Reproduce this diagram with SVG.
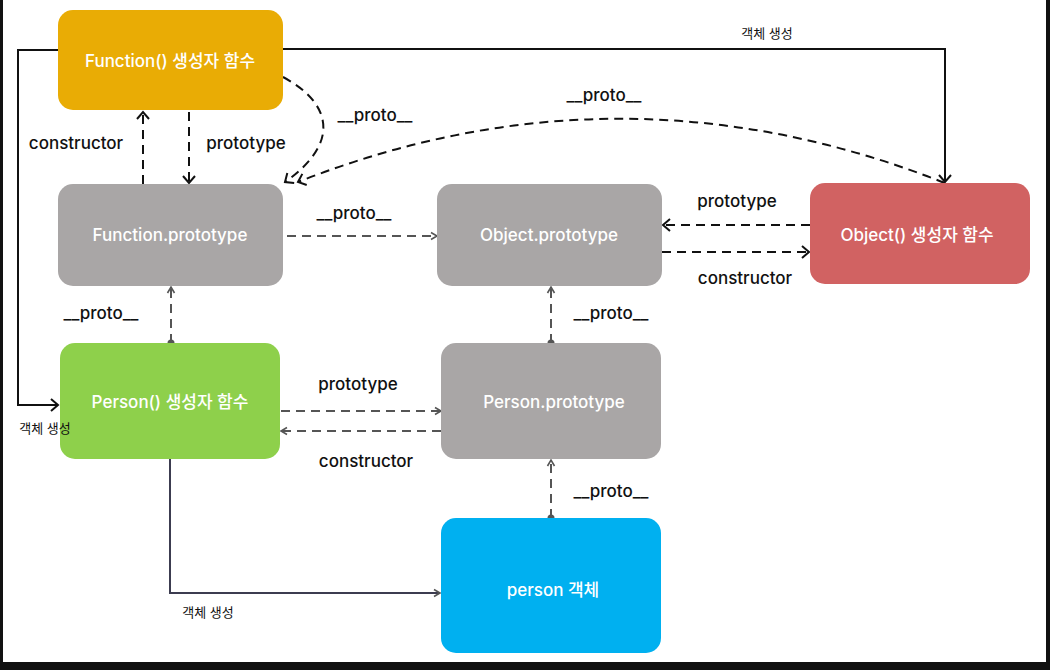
<svg xmlns="http://www.w3.org/2000/svg" width="1050" height="670" viewBox="0 0 1050 670">
<style>
.node text{font-family:Inter,"Noto Sans CJK KR",sans-serif;font-size:17px;font-weight:500;fill:#fff;text-anchor:middle;dominant-baseline:central}
.lbl{font-family:Inter,"Noto Sans CJK KR",sans-serif;font-size:17px;font-weight:500;fill:#111;text-anchor:middle}
.sm{font-family:Inter,"Noto Sans CJK KR",sans-serif;font-size:13px;font-weight:400;fill:#111;text-anchor:middle}
.bd{fill:none;stroke:#111;stroke-width:2;stroke-dasharray:9 6}
.gd{fill:none;stroke:#555;stroke-width:2;stroke-dasharray:9 6}
.sol{fill:none;stroke:#111;stroke-width:2}
</style>
<defs>
<marker id="ab" markerWidth="12" markerHeight="14" refX="9" refY="7" orient="auto" markerUnits="userSpaceOnUse"><path d="M2,1 L9,7 L2,13" fill="none" stroke="#111" stroke-width="2"/></marker>
<marker id="ag" markerWidth="10" markerHeight="10" refX="8" refY="5" orient="auto" markerUnits="userSpaceOnUse"><path d="M2,1.5 L8,5 L2,8.5" fill="none" stroke="#555" stroke-width="1.6"/></marker>
<marker id="dot" markerWidth="8" markerHeight="8" refX="4" refY="4" markerUnits="userSpaceOnUse"><circle cx="4" cy="4" r="3.5" fill="#555"/></marker>
</defs>
<rect x="0" y="0" width="1050" height="670" fill="#111"/>
<rect x="3" y="0" width="1043" height="662" fill="#fff"/>

<g id="connectors">
<path class="sol" d="M58,50 H18 V405 H58" marker-end="url(#ab)"/>
<path class="sol" d="M283,49 H945 V182" marker-end="url(#ab)"/>
<path class="bd" d="M143,184 V112" marker-end="url(#ab)"/>
<path class="bd" d="M189,112 V183" marker-end="url(#ab)"/>
<path class="bd" d="M283,77 C335,105 338,145 285,182" marker-end="url(#ab)"/>
<path class="bd" d="M945,183 Q620,55 298,182" marker-end="url(#ab)"/>
<path class="bd" d="M810,225 H663" marker-end="url(#ab)"/>
<path class="bd" d="M662,252 H809" marker-end="url(#ab)"/>
<path class="gd" d="M287,236 H437" marker-end="url(#ag)"/>
<path class="gd" d="M171,343 V287" marker-start="url(#dot)" marker-end="url(#ag)"/>
<path class="gd" d="M551,343 V287" marker-start="url(#dot)" marker-end="url(#ag)"/>
<path class="gd" d="M281,411 H441" marker-end="url(#ag)"/>
<path class="gd" d="M441,431 H281" marker-end="url(#ag)"/>
<path class="gd" d="M551,518 V460" marker-start="url(#dot)" marker-end="url(#ag)"/>
<path d="M170,459 V593 H440" fill="none" stroke="#3c3c50" stroke-width="2" marker-end="url(#ag)"/>
<text class="sm" x="767" y="38">객체 생성</text>
<text class="sm" x="208" y="617">객체 생성</text>
<text class="lbl" x="76" y="149">constructor</text>
<text class="lbl" x="246" y="149">prototype</text>
<text class="lbl" x="375" y="121">__proto__</text>
<text class="lbl" x="604" y="101">__proto__</text>
<text class="lbl" x="354" y="219">__proto__</text>
<text class="lbl" x="737" y="207">prototype</text>
<text class="lbl" x="745" y="284">constructor</text>
<text class="lbl" x="101" y="319">__proto__</text>
<text class="lbl" x="611" y="319">__proto__</text>
<text class="lbl" x="358" y="390">prototype</text>
<text class="lbl" x="366" y="467">constructor</text>
<text class="lbl" x="611" y="497">__proto__</text>
</g>

<g id="func-ctor" class="node"><rect x="58" y="10" width="225" height="100" rx="15" fill="#E9AC05"/><text x="170" y="61">Function() 생성자 함수</text></g>
<g id="func-proto" class="node"><rect x="58" y="184" width="225" height="102" rx="15" fill="#A9A6A6"/><text x="170" y="235">Function.prototype</text></g>
<g id="obj-proto" class="node"><rect x="437" y="184" width="225" height="102" rx="15" fill="#A9A6A6"/><text x="549" y="235">Object.prototype</text></g>
<g id="obj-ctor" class="node"><rect x="810" y="183" width="220" height="101" rx="15" fill="#D16262"/><text x="917" y="235">Object() 생성자 함수</text></g>
<g id="person-ctor" class="node"><rect x="60" y="343" width="220" height="116" rx="15" fill="#8ED04B"/><text x="170" y="402">Person() 생성자 함수</text></g>
<g id="person-proto" class="node"><rect x="441" y="343" width="220" height="116" rx="15" fill="#A9A6A6"/><text x="554" y="402">Person.prototype</text></g>
<g id="person-obj" class="node"><rect x="441" y="518" width="220" height="135" rx="15" fill="#00B0F0"/><text x="553" y="590">person 객체</text></g>
<g id="connector-labels"><text class="sm" x="45" y="433">객체 생성</text></g>
</svg>
